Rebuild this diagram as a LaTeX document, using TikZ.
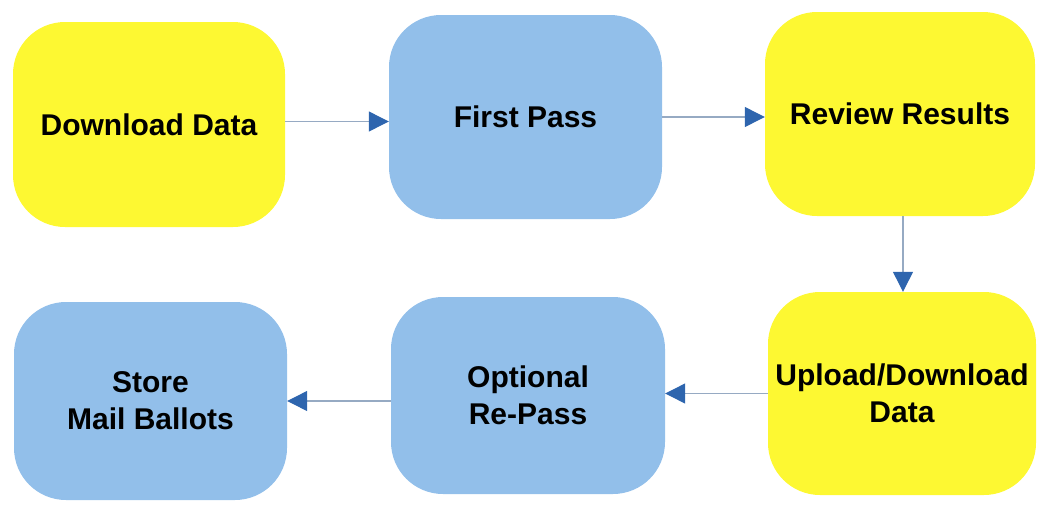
\documentclass[tikz,border=0pt]{standalone}
\usepackage{fontspec}
\setmainfont{Liberation Sans}
\usetikzlibrary{arrows.meta}
\definecolor{stepyellow}{RGB}{253,248,50}
\definecolor{stepblue}{RGB}{146,191,234}
\definecolor{tipblue}{RGB}{46,101,174}
\definecolor{linegrey}{RGB}{150,170,195}
\tikzset{
  stepbox/.style={rectangle, rounded corners=52pt, inner sep=0pt, align=center,
    font=\fontsize{30}{37}\selectfont\bfseries, text=black},
  yelbox/.style={stepbox, fill=stepyellow},
  blubox/.style={stepbox, fill=stepblue},
  flow/.style={draw=linegrey, line width=1.2pt,
    -{Triangle[length=20pt, width=20pt, color=tipblue]}}
}
\begin{document}
\begin{tikzpicture}[x=1pt, y=-1pt]
  \useasboundingbox (0,0) rectangle (1037,504);
  % top row
  \node[yelbox, minimum width=272pt, minimum height=205pt] (dl) at (149,124.5) {Download Data};
  \node[blubox, minimum width=273pt, minimum height=204pt] (fp) at (525.5,117) {First Pass};
  \node[yelbox, minimum width=270pt, minimum height=204pt] (rr) at (900,114) {Review Results};
  % bottom row
  \node[yelbox, minimum width=268pt, minimum height=203pt] (ud) at (902,393.5) {Upload/Download\\Data};
  \node[blubox, minimum width=274pt, minimum height=197pt] (orp) at (528,395.5) {Optional\\Re-Pass};
  \node[blubox, minimum width=273pt, minimum height=198pt] (smb) at (150.5,401) {Store\\Mail Ballots};
  % connectors
  \draw[flow] ([yshift=3pt]dl.east) -- ([yshift=3pt]dl.east -| fp.west);
  \draw[flow] (fp.east) -- (fp.east -| rr.west);
  \draw[flow] ([xshift=3pt]rr.south) -- ([xshift=3pt]rr.south |- ud.north);
  \draw[flow] (ud.west) -- (ud.west -| orp.east);
  \draw[flow] (smb.east -| orp.west) -- (smb.east);
\end{tikzpicture}
\end{document}
